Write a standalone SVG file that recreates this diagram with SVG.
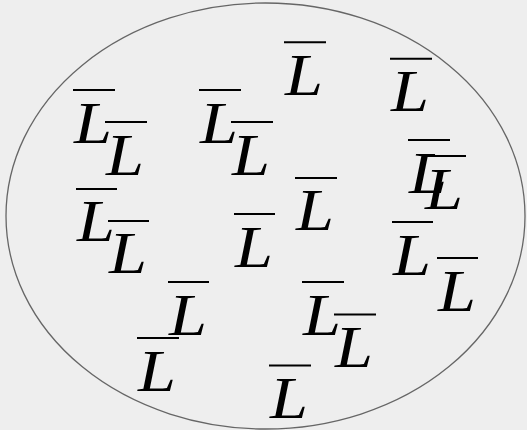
<svg xmlns="http://www.w3.org/2000/svg" width="527" height="430" viewBox="0 0 527 430">
<style>
.l{font-family:"Liberation Serif","Times New Roman",serif;font-style:italic;font-size:59px;fill:#000}
.o{stroke:#000;stroke-width:2}
</style>
<rect width="527" height="430" fill="#eeeeee"/>
<ellipse id="set" cx="265.5" cy="216" rx="259.5" ry="213" fill="none" stroke="#666666" stroke-width="1.3"/>
<g id="L1"><line class="o" x1="284" y1="42.3" x2="326" y2="42.3"/><text class="l" x="285" y="94.5" textLength="38" lengthAdjust="spacingAndGlyphs">L</text></g>
<g id="L2"><line class="o" x1="390" y1="58.8" x2="432" y2="58.8"/><text class="l" x="391" y="111" textLength="38" lengthAdjust="spacingAndGlyphs">L</text></g>
<g id="L3"><line class="o" x1="73" y1="90" x2="115" y2="90"/><text class="l" x="74" y="142.5" textLength="38" lengthAdjust="spacingAndGlyphs">L</text></g>
<g id="L4"><line class="o" x1="105" y1="122" x2="147" y2="122"/><text class="l" x="106" y="174.7" textLength="38" lengthAdjust="spacingAndGlyphs">L</text></g>
<g id="L5"><line class="o" x1="199" y1="90" x2="241" y2="90"/><text class="l" x="200" y="142.5" textLength="38" lengthAdjust="spacingAndGlyphs">L</text></g>
<g id="L6"><line class="o" x1="231" y1="122" x2="273" y2="122"/><text class="l" x="232" y="174.7" textLength="38" lengthAdjust="spacingAndGlyphs">L</text></g>
<g id="L7"><line class="o" x1="408" y1="140" x2="450" y2="140"/><text class="l" x="409" y="192.5" textLength="38" lengthAdjust="spacingAndGlyphs">L</text></g>
<g id="L8"><line class="o" x1="424" y1="156" x2="466" y2="156"/><text class="l" x="425" y="208.7" textLength="38" lengthAdjust="spacingAndGlyphs">L</text></g>
<g id="L9"><line class="o" x1="295" y1="178" x2="337" y2="178"/><text class="l" x="296" y="230" textLength="38" lengthAdjust="spacingAndGlyphs">L</text></g>
<g id="L10"><line class="o" x1="76" y1="189" x2="117" y2="189"/><text class="l" x="77" y="241" textLength="38" lengthAdjust="spacingAndGlyphs">L</text></g>
<g id="L11"><line class="o" x1="108" y1="221" x2="149" y2="221"/><text class="l" x="109" y="273" textLength="38" lengthAdjust="spacingAndGlyphs">L</text></g>
<g id="L12"><line class="o" x1="234" y1="214" x2="275" y2="214"/><text class="l" x="235" y="267" textLength="38" lengthAdjust="spacingAndGlyphs">L</text></g>
<g id="L13"><line class="o" x1="392" y1="222" x2="433" y2="222"/><text class="l" x="393" y="274.5" textLength="38" lengthAdjust="spacingAndGlyphs">L</text></g>
<g id="L14"><line class="o" x1="437" y1="258" x2="478" y2="258"/><text class="l" x="438" y="310.5" textLength="38" lengthAdjust="spacingAndGlyphs">L</text></g>
<g id="L15"><line class="o" x1="168" y1="282" x2="209" y2="282"/><text class="l" x="169" y="335" textLength="38" lengthAdjust="spacingAndGlyphs">L</text></g>
<g id="L16"><line class="o" x1="302" y1="282" x2="344" y2="282"/><text class="l" x="303" y="335" textLength="38" lengthAdjust="spacingAndGlyphs">L</text></g>
<g id="L17"><line class="o" x1="334" y1="314.5" x2="376" y2="314.5"/><text class="l" x="335" y="367" textLength="38" lengthAdjust="spacingAndGlyphs">L</text></g>
<g id="L18"><line class="o" x1="137" y1="338" x2="179" y2="338"/><text class="l" x="138" y="390.5" textLength="38" lengthAdjust="spacingAndGlyphs">L</text></g>
<g id="L19"><line class="o" x1="269" y1="365.6" x2="311" y2="365.6"/><text class="l" x="270" y="418" textLength="38" lengthAdjust="spacingAndGlyphs">L</text></g>
</svg>
